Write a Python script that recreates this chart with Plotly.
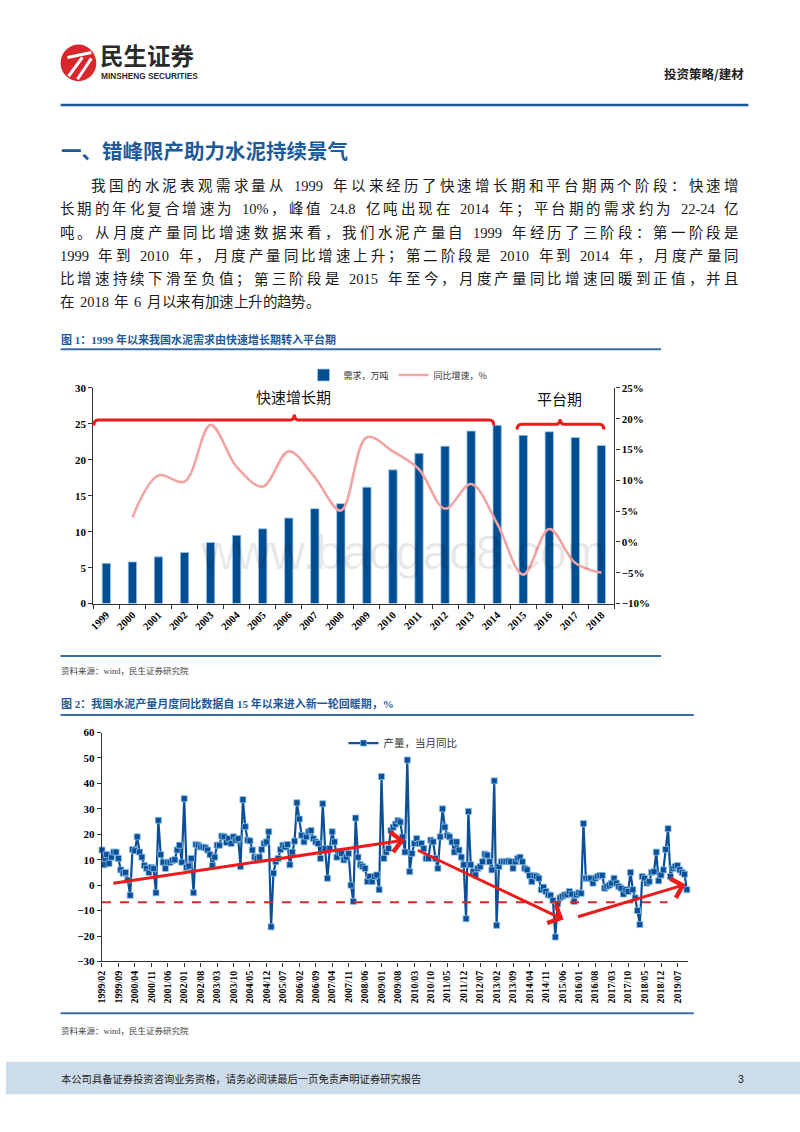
import plotly.graph_objects as go

# ---------------- data ----------------
years = ["1999", "2000", "2001", "2002", "2003", "2004", "2005", "2006", "2007", "2008",
         "2009", "2010", "2011", "2012", "2013", "2014", "2015", "2016", "2017", "2018"]
demand = [5.6, 5.8, 6.5, 7.1, 8.5, 9.5, 10.4, 11.9, 13.2, 13.9,
          16.2, 18.6, 20.9, 21.9, 24.0, 24.8, 23.4, 23.9, 23.1, 22.0]
growth = [None, 4.0, 10.8, 9.8, 19.0, 12.2, 9.0, 14.7, 10.5, 5.1,
          17.0, 14.7, 11.8, 5.4, 9.4, 3.0, -5.3, 2.1, -3.4, -5.0]

month_ticks = ["1999/02", "1999/09", "2000/04", "2000/11", "2001/06", "2002/01", "2002/08",
               "2003/03", "2003/10", "2004/05", "2004/12", "2005/07", "2006/02", "2006/09",
               "2007/04", "2007/11", "2008/06", "2009/01", "2009/08", "2010/03", "2010/10",
               "2011/05", "2011/12", "2012/07", "2013/02", "2013/09", "2014/04", "2014/11",
               "2015/06", "2016/01", "2016/08", "2017/03", "2017/10", "2018/05", "2018/12",
               "2019/07"]
yoy_1999_2005 = [13.8, 8, 12, 8.5, 11, 13, 13, 10.5, 6, 4.7,
                 5, 2, -4, 14, 13.5, 19, 13, 11, 7.7, 6.6,
                 5, 7, 6.5, -3, 25.5, 12, 9, 6.6, 9, 9,
                 9.7, 10, 13.8, 15.7, 9, 34, 7, 7.5, 10.5, -3,
                 16, 15.7, 15, 15, 14.7, 13.8, 12, 7.7, 11, 15.7,
                 15.7, 19.3, 19, 16.8, 18.3, 16.4, 19, 17.7, 18.3, 7.3,
                 33.6, 23, 17.7, 17.4, 13.8, 11, 10.5, 11, 14, 16.4,
                 17, 21, -16.4, 4.7, 9.2, 10.5, 14, 15.7, 15, 16,
                 8, 13, 17.3, 32.4]
yoy_2006_2013 = [26, 19.6, 17, 19, 21, 21.5, 18.3, 17, 16.4, 10.5,
                 32, 14.4, 2.7, 14.4, 21, 17, 11, 13, 12.5, 9.9,
                 11, 12.5, 0, -6.4, 26.4, 11, 8, 7.3, 6.6, 1.4,
                 3.4, 1.4, 3.4, 4, -1.8, 42.7, 10.5, 13, 14.4, 21.5,
                 22.8, 24, 25.4, 24.8, 19, 13, 49.2, 5.3, 12.5, 16.4,
                 18.3, 16.4, 16.4, 14.4, 10.5, 10.5, 17.7, 17, 10.5, 6.6,
                 19, 30, 22.8, 19.6, 19, 17, 13, 17, 13.8, 11,
                 8, -13.2, 29, 8, 5.3, 4, 6.6, 7.3, 9.2, 12.2,
                 11.8, 9.2, 6, 41, -15.8]
yoy_2013_2019 = [7.3, 9.2, 9.2, 9.3, 9.5, 9.2, 6.6, 9.2, 10.5, 11,
                 9.2, 6.6, 6, 3.8, 1.4, 3.8, 3.4, 2.7, -1.8, -0.8,
                 -2.5, -3.8, -4, -6, -20.4,
                 -7.4, -5, -4.4, -3.8, -3.8, -2.5, -3.5, -6.4, -3.8, -3.0, -3.2, 24.2,
                 2.7, 2.7, 2.7, 0.8, 2.7, 3.4, 3.8, 3.8, -1.2, -0.5,
                 0, 0.8, 2.7, 0.8, -0.5, -1.2, -3.5, -1.8, -2.5, 5,
                 -1.8, -5, -10, -15.5,
                 3.4, 2.7, 0.8, 1.4, 5, 5.3, 13, 1.7, 4, 6,
                 14, 22.2, 3.4, 6.6, 7.3, 7.7, 6, 5, 4.3, -1.8]
yoy = yoy_1999_2005 + yoy_2006_2013 + yoy_2013_2019

# trend arrows (tail -> head) and threshold line, in chart-2 data units
arrow_tails = [(4.2, 0.7), (133.8, 14.0), (202.0, -12.6)]
arrow_heads = [(128.9, 17.7), (196.5, -13.5), (248.5, 0.3)]
threshold_value = -6.75
threshold_end = 240.8

para_lines = [
    "我国的水泥表观需求量从 1999 年以来经历了快速增长期和平台期两个阶段：快速增",
    "长期的年化复合增速为 10%，峰值 24.8 亿吨出现在 2014 年；平台期的需求约为 22-24 亿",
    "吨。从月度产量同比增速数据来看，我们水泥产量自 1999 年经历了三阶段：第一阶段是",
    "1999 年到 2010 年，月度产量同比增速上升；第二阶段是 2010 年到 2014 年，月度产量同",
    "比增速持续下滑至负值；第三阶段是 2015 年至今，月度产量同比增速回暖到正值，并且",
    "在 2018 年 6 月以来有加速上升的趋势。",
]

# ---------------- helpers ----------------
W, H = 800, 1132
def px(x):
    return x / W
def py(y):
    return 1 - y / H

SERIF_CJK = "Liberation Serif, Noto Sans CJK SC"
CJK = "Noto Sans CJK SC"
BLUE_TXT = "#1d5a9a"
TX = -4  # left-anchored text box padding compensation

fig = go.Figure()

# ---------------- chart 1 ----------------
fig.add_trace(go.Bar(
    x=years, y=demand, name="需求，万吨", width=0.32,
    marker=dict(color="#004e92", line=dict(color="#9ec5ea", width=0.8)),
    xaxis="x", yaxis="y", legend="legend"))
fig.add_trace(go.Scatter(
    x=years, y=growth, name="同比增速，%", mode="lines",
    line=dict(color="#f2a4a4", width=2.6, shape="spline", smoothing=1.0),
    xaxis="x", yaxis="y2", legend="legend"))

# ---------------- chart 2 ----------------
fig.add_trace(go.Scatter(
    x=list(range(len(yoy))), y=yoy, name="产量，当月同比", mode="lines+markers",
    line=dict(color="#0b4f96", width=2.2),
    marker=dict(symbol="square", size=6, color="#0b4f96", line=dict(color="#86bce8", width=0.8)),
    cliponaxis=False, xaxis="x2", yaxis="y3", legend="legend2"))

tickfont = dict(family="Liberation Serif", size=11, color="#000", weight="bold")
axis_common = dict(showline=True, linecolor="#333", linewidth=1.4, ticks="outside",
                   ticklen=4, tickcolor="#333", showgrid=False, zeroline=False)

fig.update_layout(
    width=W, height=H, margin=dict(l=0, r=0, t=0, b=0),
    paper_bgcolor="white", plot_bgcolor="rgba(0,0,0,0)",
    bargap=0.5,
    xaxis=dict(domain=[px(88), px(613)], anchor="y", type="category", tickangle=-45,
               tickson="boundaries", tickfont=dict(tickfont, size=10.5), **axis_common),
    yaxis=dict(domain=[py(604), py(386)], anchor="x", range=[0, 30], dtick=5,
               tickfont=tickfont, **axis_common),
    yaxis2=dict(overlaying="y", side="right", anchor="x", range=[-10, 25], dtick=5,
                ticksuffix="%", tickfont=tickfont, **axis_common),
    xaxis2=dict(domain=[px(96.7), px(686.7)], anchor="y3", range=[0, 249.3],
                tickmode="array", tickvals=[7 * i for i in range(len(month_ticks))],
                ticktext=month_ticks, tickangle=-90,
                tickfont=dict(tickfont, size=10), **axis_common),
    yaxis3=dict(domain=[py(965.7), py(734.3)], anchor="x2", range=[-30, 60], dtick=10,
                tickfont=tickfont, **axis_common),
    legend=dict(x=px(395), y=py(373), xanchor="center", yanchor="middle",
                orientation="h", font=dict(family=CJK, size=9, color="#333"),
                bgcolor="rgba(0,0,0,0)", itemwidth=30),
    legend2=dict(x=px(340), y=py(745), xanchor="left", yanchor="middle",
                 orientation="h", font=dict(family=CJK, size=10.5, color="#333"),
                 bgcolor="rgba(0,0,0,0)", itemwidth=30),
    showlegend=True,
)

shapes = []
annotations = []

def hline(x0, x1, y, color, width):
    shapes.append(dict(type="line", xref="paper", yref="paper", x0=px(x0), x1=px(x1),
                       y0=py(y), y1=py(y), line=dict(color=color, width=width)))

def text(x, y, s, size, color="#222", family=CJK, weight="normal", anchor="left"):
    if anchor == "left":
        x += TX
    annotations.append(dict(x=px(x), y=py(y), xref="paper", yref="paper", text=s,
                            showarrow=False, xanchor=anchor, yanchor="middle",
                            font=dict(family=family, size=size, color=color, weight=weight)))

def path_px(points_cmds):
    out = []
    for cmd, pts in points_cmds:
        coords = " ".join(f"{px(x):.5f},{py(y):.5f}" for x, y in pts)
        out.append(f"{cmd}{coords}")
    return " ".join(out)

# ---------------- header ----------------
shapes.append(dict(type="circle", xref="paper", yref="paper", x0=px(55), x1=px(91),
                   y0=py(76), y1=py(39), fillcolor="#d9262c", line=dict(width=0)))
for (a, b) in [((62, 52), (86, 47)), ((63, 71), (77, 52)), ((72, 74), (86, 53))]:
    shapes.append(dict(type="line", xref="paper", yref="paper", x0=px(a[0]), y0=py(a[1]),
                       x1=px(b[0]), y1=py(b[1]), line=dict(color="white", width=3)))
text(97, 50, "民生证券", 23.5, "#2b2b2b", CJK, "bold")
text(98, 71, "MINSHENG SECURITIES", 8.3, "#2b2b2b", "Liberation Sans", "bold")
text(746, 68, "投资策略/建材", 12.5, "#222", CJK, "bold", "right")
hline(55, 748, 100, "#1b5796", 2.5)

# ---------------- section title + paragraph ----------------
text(57, 146, "一、错峰限产助力水泥持续景气", 20.5, BLUE_TXT, CJK, "bold")

PFS = 14.5
def char_w(c, space_em):
    if ord(c) > 0x2E80:
        return PFS
    if c == " ":
        return space_em * PFS
    if c in ".,":
        return 0.25 * PFS
    if c == "-":
        return 0.333 * PFS
    if c == "%":
        return 0.833 * PFS
    return 0.5 * PFS

def tokenize(s):
    toks, cur = [], ""
    for c in s:
        if ord(c) < 128 and c != " ":
            cur += c
        else:
            if cur:
                toks.append(cur)
                cur = ""
            toks.append(c)
    if cur:
        toks.append(cur)
    return toks

line_y = [182, 205.5, 229, 252.5, 276, 299.5]
for i, s in enumerate(para_lines):
    x_start = 88 if i == 0 else 56
    last = i == len(para_lines) - 1
    toks = tokenize(s)
    widths = [sum(char_w(c, 0.4 if last else 0.25) for c in t) for t in toks]
    extra = 0.0 if last else (740 - x_start - sum(widths)) / max(1, len(toks) - 1)
    x = x_start
    for t, w in zip(toks, widths):
        if t != " ":
            text(x, line_y[i], t, PFS, "#1a1a1a", SERIF_CJK)
        x += w + extra

# ---------------- figure 1 frame ----------------
text(57, 337, "图 1：1999 年以来我国水泥需求由快速增长期转入平台期", 11, BLUE_TXT, SERIF_CJK, "bold")
hline(55, 660, 347, "#3b6ea6", 2)
hline(55, 660, 657, "#3b6ea6", 2)
text(57, 672, "资料来源：wind，民生证券研究院", 8.5, "#444", SERIF_CJK)

# brackets
shapes.append(dict(type="path", xref="paper", yref="paper", line=dict(color="#ee1b1b", width=3),
                   path=path_px([("M", [(88.5, 424)]), ("Q", [(88.5, 418.5), (93, 418.5)]),
                                 ("L", [(286, 418.5)]), ("Q", [(290, 418.5), (290.5, 413)]),
                                 ("Q", [(291, 418.5), (295, 418.5)]), ("L", [(487, 418.5)]),
                                 ("Q", [(491.5, 418.5), (491.5, 424)])])))
shapes.append(dict(type="path", xref="paper", yref="paper", line=dict(color="#ee1b1b", width=3),
                   path=path_px([("M", [(515, 428)]), ("Q", [(515, 422.7), (519.5, 422.7)]),
                                 ("L", [(554, 422.7)]), ("Q", [(558, 422.7), (558.3, 417.5)]),
                                 ("Q", [(558.6, 422.7), (562.5, 422.7)]), ("L", [(598, 422.7)]),
                                 ("Q", [(602.3, 422.7), (602.3, 428)])])))
text(290, 395, "快速增长期", 15, "#111", CJK, "normal", "center")
text(558, 397, "平台期", 15, "#111", CJK, "normal", "center")
text(400, 552, "www.baogao8.com", 48, "rgba(0,0,0,0.09)", "Liberation Sans", "normal", "center")

# ---------------- figure 2 frame ----------------
text(57, 705, "图 2：我国水泥产量月度同比数据自 15 年以来进入新一轮回暖期，%", 11, BLUE_TXT, SERIF_CJK, "bold")
hline(55, 693, 716.5, "#3b6ea6", 2)
hline(55, 693, 1018, "#3b6ea6", 2)
text(57, 1036, "资料来源：wind，民生证券研究院", 8.5, "#444", SERIF_CJK)

shapes.append(dict(type="line", xref="x2", yref="y3", x0=0, x1=threshold_end,
                   y0=threshold_value, y1=threshold_value,
                   line=dict(color="#d42a2a", width=2, dash="dash")))
for (tx, ty), (hx, hy) in zip(arrow_tails, arrow_heads):
    annotations.append(dict(x=hx, y=hy, ax=tx, ay=ty, xref="x2", yref="y3",
                            axref="x2", ayref="y3", text="", showarrow=True,
                            arrowhead=4, arrowsize=1.3, arrowwidth=3,
                            arrowcolor="#ee1b1b", standoff=0, startstandoff=0))

# ---------------- footer ----------------
shapes.append(dict(type="rect", xref="paper", yref="paper", x0=0, x1=1, y0=py(1100),
                   y1=py(1067), fillcolor="#cddcea", line=dict(width=0), layer="below"))
text(57, 1084, "本公司具备证券投资咨询业务资格，请务必阅读最后一页免责声明证券研究报告", 10.3, "#222", CJK)
text(746, 1084, "3", 10.5, "#222", "Liberation Sans", "normal", "right")

fig.update_layout(shapes=shapes, annotations=annotations)
fig.write_html("out.html", config={"displayModeBar": False},
               post_script="document.body.style.margin='0';document.body.style.overflow='hidden';")
